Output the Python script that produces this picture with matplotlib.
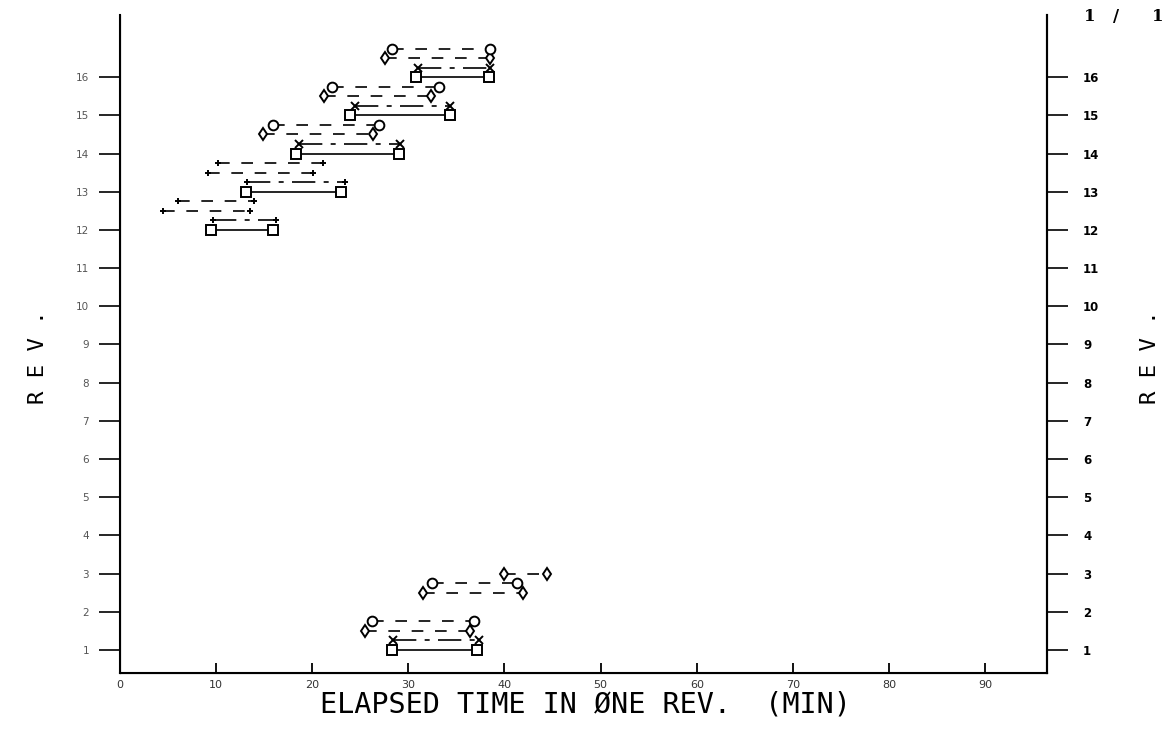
import matplotlib
matplotlib.use('Agg')
import matplotlib.pyplot as plt

# rows of the chart: level on the REV axis, start and end of the interval (min)
# solid rows with square ends
sq_level = [1, 12, 13, 14, 15, 16]
sq_start = [28.3, 9.5, 13.1, 18.3, 24.0, 30.8]
sq_end = [37.2, 16.0, 23.0, 29.0, 34.3, 38.4]

# dash-dot rows with x ends
x_level = [1.25, 12.25, 13.25, 14.25, 15.25, 16.25]
x_start = [28.4, 9.7, 13.3, 18.7, 24.5, 31.0]
x_end = [37.4, 16.3, 23.4, 29.1, 34.3, 38.5]

# dashed rows with diamond ends
d_level = [1.5, 2.5, 3.0, 12.5, 13.5, 14.5, 15.5, 16.5]
d_start = [25.5, 31.5, 40.0, 4.5, 9.2, 14.9, 21.3, 27.6]
d_end = [36.4, 41.9, 44.4, 13.6, 20.1, 26.3, 32.4, 38.5]

# dashed rows with circle ends
c_level = [1.75, 2.75, 12.75, 13.75, 14.75, 15.75, 16.75]
c_start = [26.2, 32.5, 6.1, 10.2, 15.9, 22.1, 28.3]
c_end = [36.8, 41.3, 14.0, 21.1, 27.0, 33.2, 38.5]

rev_ticks = list(range(1, 17))
time_ticks = list(range(0, 100, 10))

fig = plt.figure(figsize=(11.66, 7.29), dpi=100)
ax = fig.add_axes([0.1025, 0.077, 0.7955, 0.902])


def draw_rows(levels, starts, ends, marker, ms, dashes):
    for lvl, a, b in zip(levels, starts, ends):
        m, s = marker, ms
        # revs 12 and 13 were plotted with small plus-like symbols
        if 12 <= lvl < 14 and marker != 's':
            m, s = '+', 5
        line, = ax.plot([a, b], [lvl, lvl], color='black', lw=1.2,
                        marker=m, ms=s, mfc='white', mec='black', mew=1.4)
        if dashes:
            line.set_dashes(dashes)


draw_rows(sq_level, sq_start, sq_end, 's', 7.5, None)
draw_rows(x_level, x_start, x_end, 'x', 6, (14, 5, 3, 5))
draw_rows(d_level, d_start, d_end, 'd', 6, (7, 7))
draw_rows(c_level, c_start, c_end, 'o', 7, (7, 7))

ax.set_xlim(0, 96.4)
ax.set_ylim(0.4, 17.62)
ax.spines['top'].set_visible(False)
for sp in ['left', 'right', 'bottom']:
    ax.spines[sp].set_linewidth(1.5)

ax.set_xticks(time_ticks)
ax.set_xticklabels([str(t) for t in time_ticks], fontsize=8, color='#333333')
ax.tick_params(axis='x', direction='in', length=7, width=1.3, pad=5)
ax.set_yticks(rev_ticks)
ax.set_yticklabels([str(r) for r in rev_ticks], fontsize=7.5, color='#555555')
ax.tick_params(axis='y', direction='out', length=15, width=1.2, pad=7)

ax2 = ax.twinx()
ax2.set_ylim(ax.get_ylim())
ax2.spines['top'].set_visible(False)
ax2.spines['right'].set_linewidth(1.5)
ax2.set_yticks(rev_ticks)
ax2.set_yticklabels([str(r) for r in rev_ticks], fontsize=8.5,
                    fontweight='bold')
ax2.tick_params(axis='y', direction='out', length=15, width=1.2, pad=11)

mono = 'DejaVu Sans Mono'
fig.text(0.502, 0.034, 'ELAPSED TIME IN \u00d8NE REV.  (MIN)', family=mono,
         fontsize=20.5, ha='center', va='center')
fig.text(0.033, 0.51, 'R E V .', family=mono, fontsize=16, rotation=90,
         ha='center', va='center')
fig.text(0.986, 0.51, 'R E V .', family=mono, fontsize=16, rotation=90,
         ha='center', va='center')

for xx, s in [(0.935, '1'), (0.957, '/'), (0.993, '1')]:
    fig.text(xx, 0.978, s, family='DejaVu Serif', fontsize=12,
             fontweight='bold', ha='center', va='center')

fig.savefig('out.png', dpi=100)
